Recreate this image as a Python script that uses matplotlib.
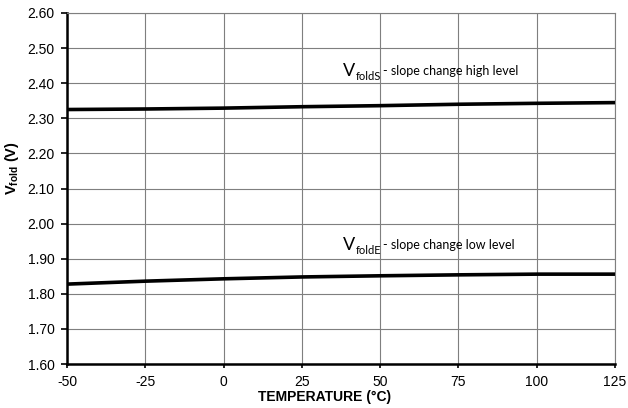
import matplotlib
matplotlib.use("Agg")
import matplotlib.pyplot as plt
import numpy as np

# Fold voltage thresholds versus temperature
temperature = [-50, -25, 0, 25, 50, 75, 100, 125]
v_fold_s = [2.325, 2.3265, 2.329, 2.333, 2.336, 2.340, 2.3427, 2.3447]
v_fold_e = [1.8276, 1.836, 1.8427, 1.848, 1.8513, 1.854, 1.856, 1.856]

x_ticks = [-50, -25, 0, 25, 50, 75, 100, 125]
y_ticks = [1.60, 1.70, 1.80, 1.90, 2.00, 2.10, 2.20, 2.30, 2.40, 2.50, 2.60]

plt.rcParams["font.family"] = ["Liberation Sans", "DejaVu Sans"]

fig = plt.figure(figsize=(6.28, 4.08), dpi=100)
ax = fig.add_axes([67 / 628, 1 - 364 / 408, 548 / 628, 351 / 408])

ax.plot(temperature, v_fold_s, color="black", lw=2.6, solid_capstyle="butt", zorder=3)
ax.plot(temperature, v_fold_e, color="black", lw=2.6, solid_capstyle="butt", zorder=3)

ax.set_xlim(-50, 125)
ax.set_ylim(1.60, 2.60)
ax.set_xticks(x_ticks)
ax.set_yticks(y_ticks)
ax.set_xticklabels([str(t) for t in x_ticks])
ax.set_yticklabels([f"{v:.2f}" for v in y_ticks])

ax.grid(True, color="#7f7f7f", lw=0.8)
ax.set_axisbelow(True)

for side in ("top", "right"):
    ax.spines[side].set_color("#7f7f7f")
    ax.spines[side].set_linewidth(0.8)
for side in ("left", "bottom"):
    ax.spines[side].set_color("black")
    ax.spines[side].set_linewidth(1.8)

ax.tick_params(axis="y", direction="out", length=4, width=1.2, pad=5, labelsize=10)
ax.tick_params(axis="x", direction="out", length=3, width=1.2, pad=5, labelsize=10)

ax.set_xlabel("TEMPERATURE (°C)", fontsize=10, fontweight="bold")
ax.xaxis.set_label_coords((325 - 67) / 548, -(401 - 364) / 351)
ax.xaxis.label.set_va("baseline")
ax.set_ylabel(r"$\mathregular{V_{fold}}$ (V)", fontsize=10.5, fontweight="bold")
ax.yaxis.set_label_coords((12 - 67) / 548, (364 - 168) / 351)
ax.yaxis.label.set_va("center")

# Curve annotations
ann_font = ["Lato", "DejaVu Sans"]


def label_curve(x, y, sub, desc):
    kw = dict(xycoords="data", textcoords="offset points", va="baseline",
              ha="left", family=ann_font, color="black")
    ax.annotate("V", xy=(x, y), xytext=(0, 0), fontsize=13, **kw)
    ax.annotate(sub, xy=(x, y), xytext=(9.5, -3), fontsize=8, **kw)
    ax.annotate("- " + desc, xy=(x, y), xytext=(28.8, 0.5), fontsize=9, **kw)


label_curve(38.1, 2.4205, "foldS", "slope change high level")
label_curve(38.1, 1.925, "foldE", "slope change low level")

fig.savefig("out.png", dpi=100)
